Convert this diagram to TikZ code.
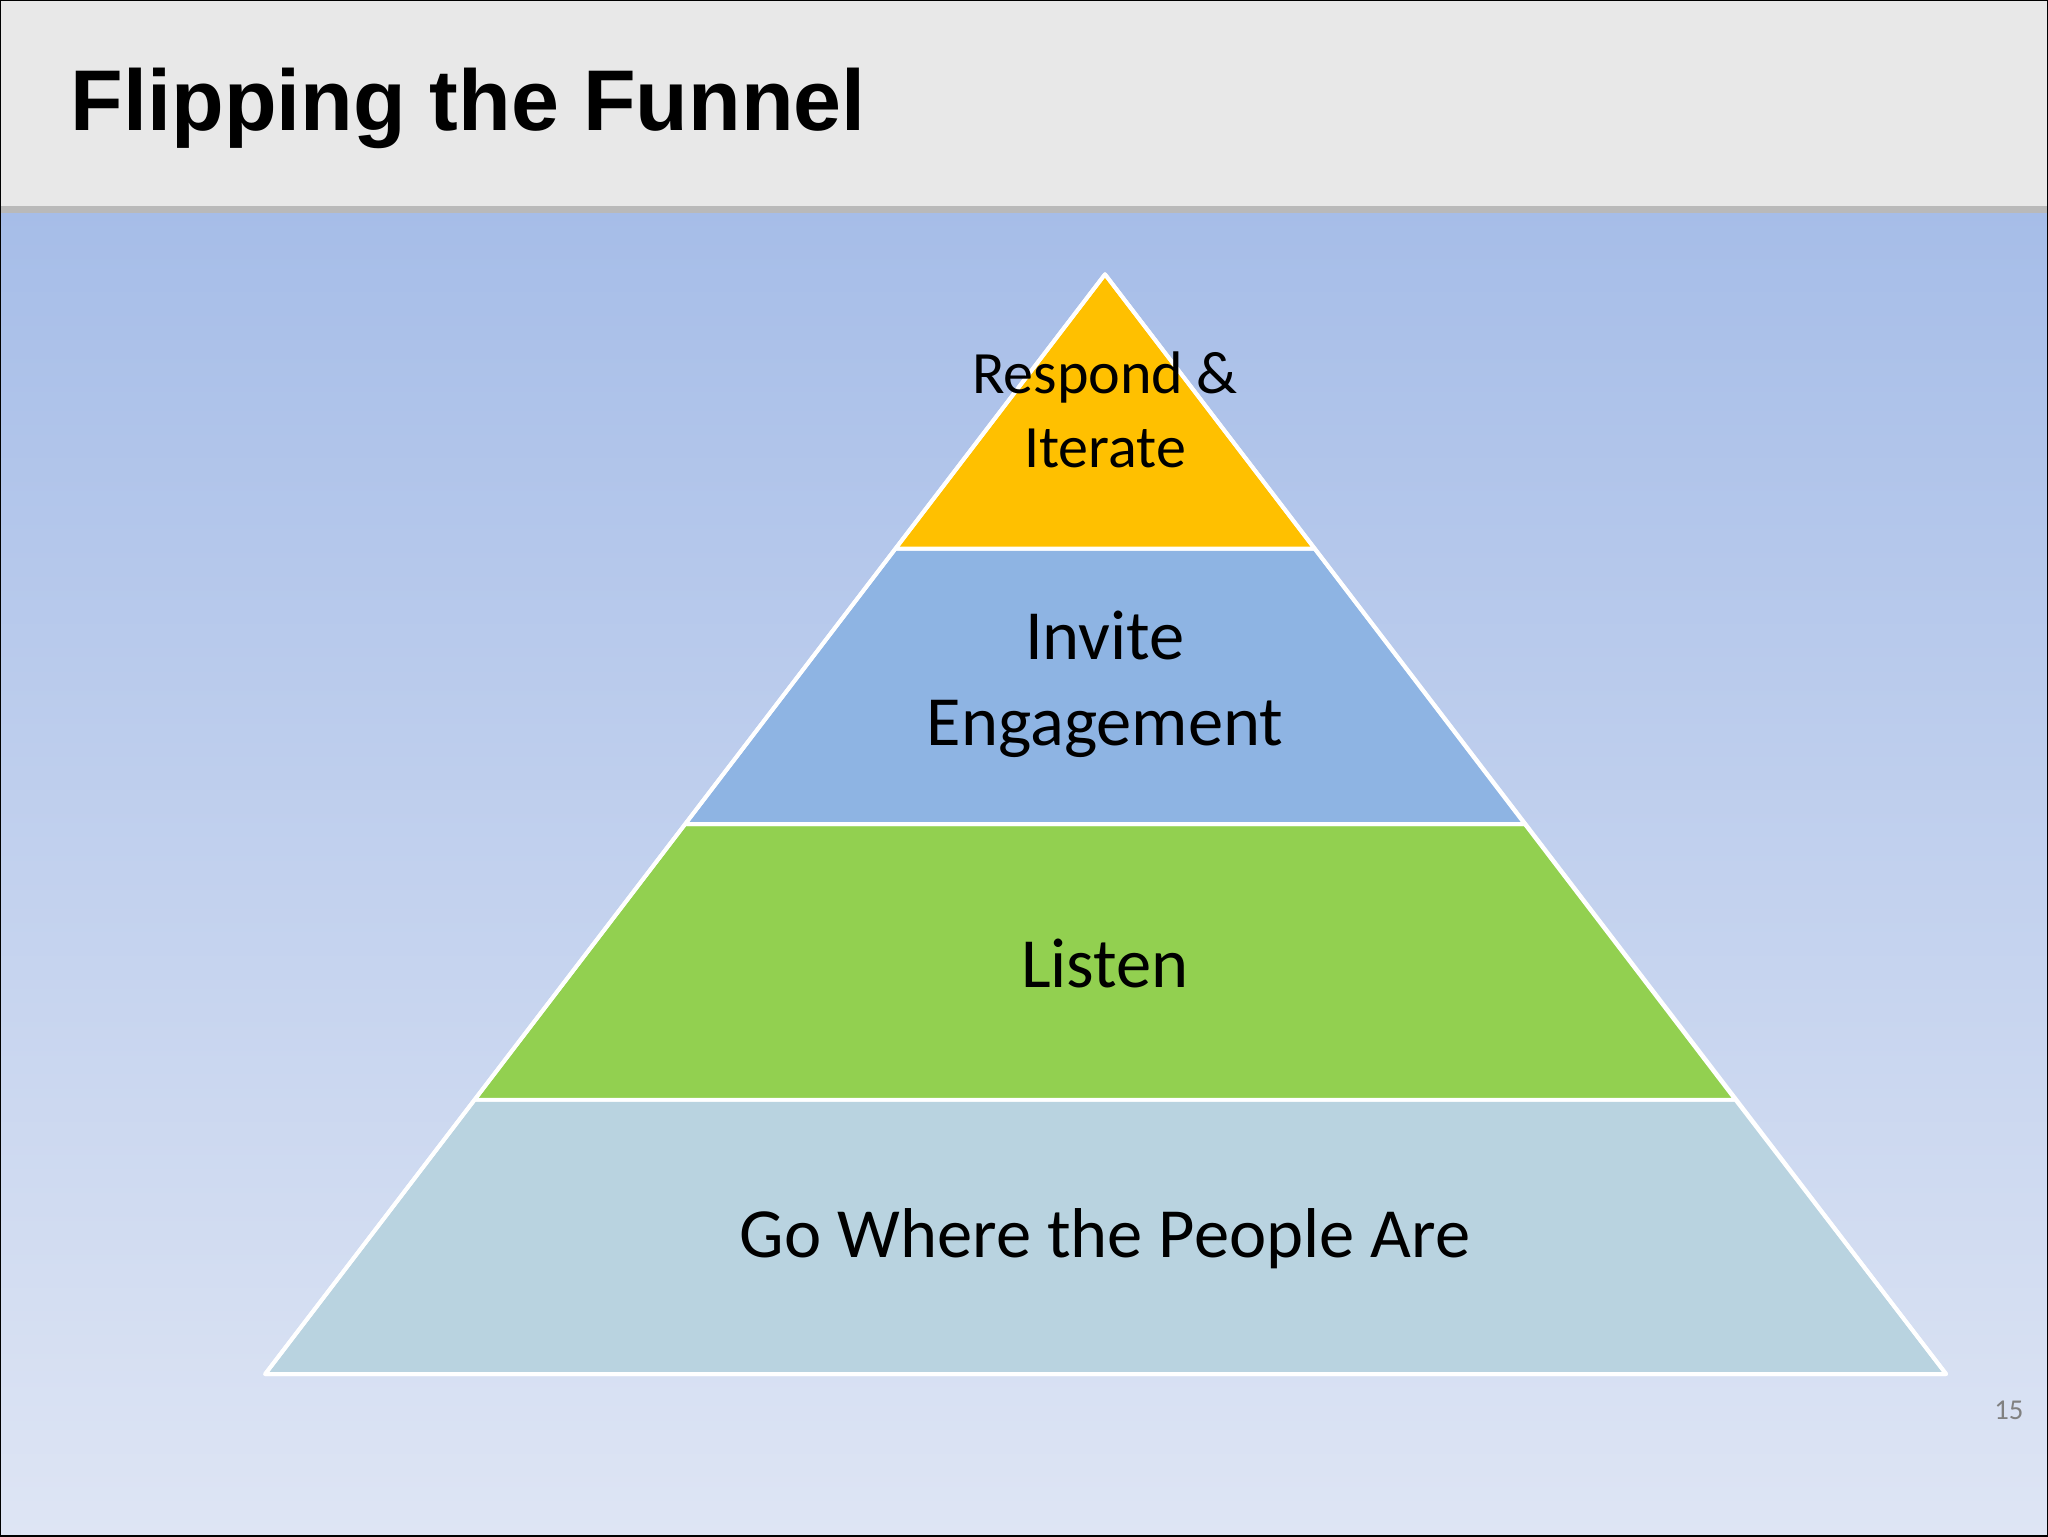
\documentclass[tikz,border=0pt]{standalone}
\usepackage{fontspec}
\setmainfont{Carlito}
\newfontfamily\titlefont{Liberation Sans}
\begin{document}
\begin{tikzpicture}[x=1pt,y=-1pt,
  tier/.style={draw=white,line width=3pt,line join=round},
  lbl/.style={font=#1,align=center,text=black,inner sep=0pt}]
\useasboundingbox (0,0) rectangle (1568,1176);
\shade[top color={rgb,255:red,166;green,189;blue,232},bottom color={rgb,255:red,222;green,229;blue,244}] (0,160) rectangle (1568,1176);
\fill[gray!18] (0,0) rectangle (1568,160);
\fill[gray!55] (0,158) rectangle (1568,163);
\draw[black,line width=1pt] (0,0) rectangle (1568,1176);
\node[anchor=base west,lbl={\titlefont\bfseries\fontsize{66}{70}\selectfont}] (title) at (54,100) {Flipping the Funnel};
\fill[tier,fill={rgb,255:red,185;green,211;blue,224}] (363.3,842) -- (1328.7,842) -- (1490,1052) -- (203,1052) -- cycle;
\fill[tier,fill={rgb,255:red,146;green,208;blue,80}] (524.5,631) -- (1167.5,631) -- (1328.7,842) -- (363.3,842) -- cycle;
\fill[tier,fill={rgb,255:red,142;green,180;blue,227}] (685.6,420) -- (1006.4,420) -- (1167.5,631) -- (524.5,631) -- cycle;
\fill[tier,fill={rgb,255:red,255;green,192;blue,0}] (846,210) -- (1006.4,420) -- (685.6,420) -- cycle;
\draw[white,line width=3pt,line join=round] (846,210) -- (1490,1052) -- (203,1052) -- cycle;
\node[lbl={\fontsize{46}{57}\selectfont}] (t1) at (846,314) {Respond \&\\Iterate};
\node[lbl={\fontsize{54}{66}\selectfont}] (t2) at (846,524) {Invite\\Engagement};
\node[lbl={\fontsize{54}{66}\selectfont}] (t3) at (846,738) {Listen};
\node[lbl={\fontsize{54}{66}\selectfont}] (t4) at (846,948) {Go Where the People Are};
\node[lbl={\fontsize{22}{26}\selectfont},text=gray] (pg) at (1538,1080) {15};
\end{tikzpicture}
\end{document}
